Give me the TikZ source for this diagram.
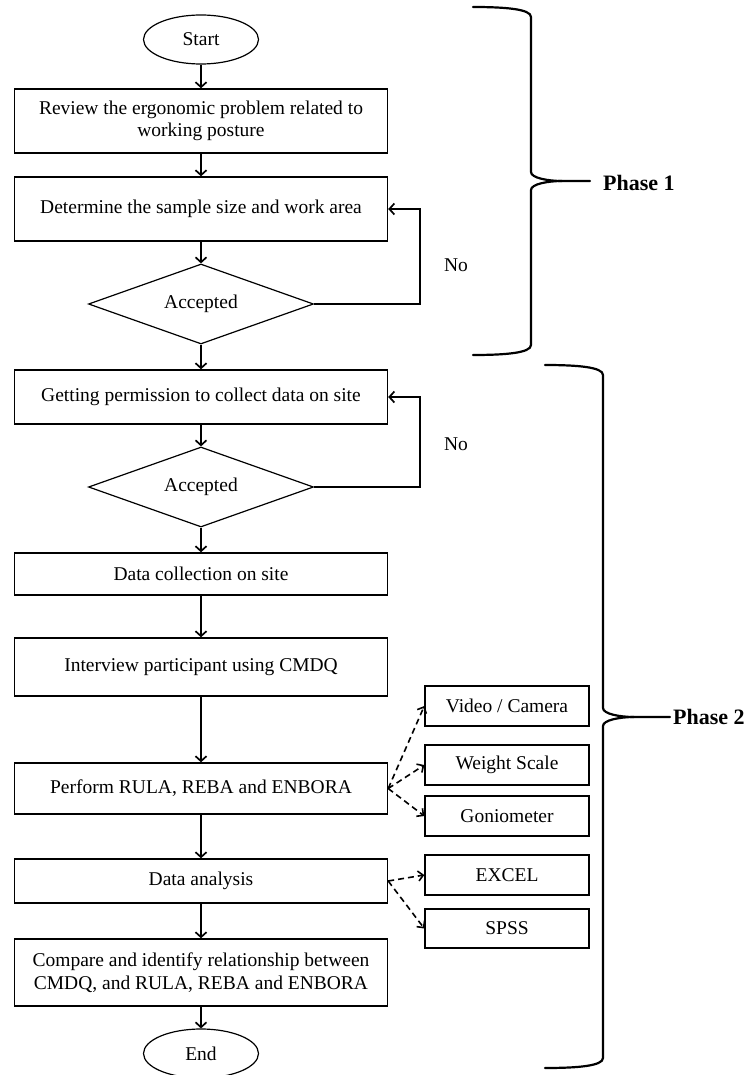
\documentclass[tikz,border=0pt]{standalone}
\usepackage{fontspec}
\setmainfont{Liberation Serif}
\usetikzlibrary{shapes.geometric,arrows.meta}
\begin{document}
\begin{tikzpicture}[x=1pt,y=-1pt,
  txt/.style={font=\fontsize{19.5}{22.5}\selectfont},
  mainbox/.style={txt,draw,line width=1.4pt,rectangle,minimum width=373pt,inner sep=0pt,align=center},
  sidebox/.style={txt,draw,line width=1.4pt,rectangle,minimum width=164pt,minimum height=40pt,inner sep=0pt},
  term/.style={txt,draw,line width=1.2pt,ellipse,minimum width=115pt,minimum height=49pt,inner sep=0pt},
  decision/.style={txt,draw,line width=1.2pt,diamond,shape aspect=2.8,minimum width=225pt,minimum height=80pt,inner sep=0pt},
  arr/.style={line width=1.7pt,-{Straight Barb[length=5pt,width=11pt,line width=1.7pt]}},
  darr/.style={line width=1.6pt,dash pattern=on 6pt off 4pt,-{Straight Barb[length=5pt,width=10pt,line width=1.6pt]}},
  bracepath/.style={line width=2.2pt,line cap=round},
  phase/.style={font=\fontsize{22}{24}\selectfont\bfseries,inner sep=0pt,anchor=west}
]
\useasboundingbox (0,0) rectangle (750,1075);

% main column
\node[term] (start) at (201,39.5) {Start};
\node[mainbox,minimum height=64pt] (b1) at (201,121) {Review the ergonomic problem related to\\working posture};
\node[mainbox,minimum height=64pt] (b2) at (201,209) {Determine the sample size and work area};
\node[decision] (d1) at (201,304) {Accepted};
\node[mainbox,minimum height=54pt] (b3) at (201,397) {Getting permission to collect data on site};
\node[decision] (d2) at (201,487) {Accepted};
\node[mainbox,minimum height=42pt] (b4) at (201,574) {Data collection on site};
\node[mainbox,minimum height=58pt] (b5) at (201,667) {Interview participant using CMDQ};
\node[mainbox,minimum height=51pt] (b6) at (201,788.5) {Perform RULA, REBA and ENBORA};
\node[mainbox,minimum height=44pt] (b7) at (201,881) {Data analysis};
\node[mainbox,minimum height=67pt] (b8) at (201,972.5) {Compare and identify relationship between\\CMDQ, and RULA, REBA and ENBORA};
\node[term] (end) at (201,1053.5) {End};

% side boxes
\node[sidebox] (vid) at (507,706) {Video / Camera};
\node[sidebox] (wei) at (507,765) {Weight Scale};
\node[sidebox] (gon) at (507,816) {Goniometer};
\node[sidebox] (exc) at (507,875) {EXCEL};
\node[sidebox,minimum height=39pt] (sps) at (507,928.5) {SPSS};

% labels
\node[txt,inner sep=0pt] (no1) at (456,265) {No};
\node[txt,inner sep=0pt] (no2) at (456,444) {No};

% main arrows
\draw[arr] (start) -- (b1);
\draw[arr] (b1) -- (b2);
\draw[arr] (b2) -- (d1);
\draw[arr] (d1) -- (b3);
\draw[arr] (b3) -- (d2);
\draw[arr] (d2) -- (b4);
\draw[arr] (b4) -- (b5);
\draw[arr] (b5) -- (b6);
\draw[arr] (b6) -- (b7);
\draw[arr] (b7) -- (b8);
\draw[arr] (b8) -- (end);

% loops
\draw[arr] (d1.east) -- ++(106,0) |- (b2.east);
\draw[arr] (d2.east) -- ++(106,0) |- (b3.east);

% dashed arrows
\draw[darr] (b6.east) -- (vid.west);
\draw[darr] (b6.east) -- (wei.west);
\draw[darr] (b6.east) -- (gon.west);
\draw[darr] (b7.east) -- (exc.west);
\draw[darr] (b7.east) -- (sps.west);

% brace 1
\draw[bracepath] (473,7) .. controls (505,7) and (531,9) .. (531,17) -- (531,172)
  .. controls (531,178) and (548,181) .. (562,181) -- (590,181);
\draw[bracepath] (562,181) .. controls (548,181) and (531,184) .. (531,190) -- (531,345)
  .. controls (531,353) and (505,355) .. (473,355);
\node[phase] (p1) at (603,183) {Phase 1};

% brace 2
\draw[bracepath] (545,365) .. controls (577,365) and (603,367) .. (603,375) -- (603,708)
  .. controls (603,714) and (620,717) .. (634,717) -- (670,717);
\draw[bracepath] (634,717) .. controls (620,717) and (603,720) .. (603,726) -- (603,1058)
  .. controls (603,1066) and (577,1068) .. (545,1068);
\node[phase] (p2) at (673,717) {Phase 2};
\end{tikzpicture}
\end{document}
